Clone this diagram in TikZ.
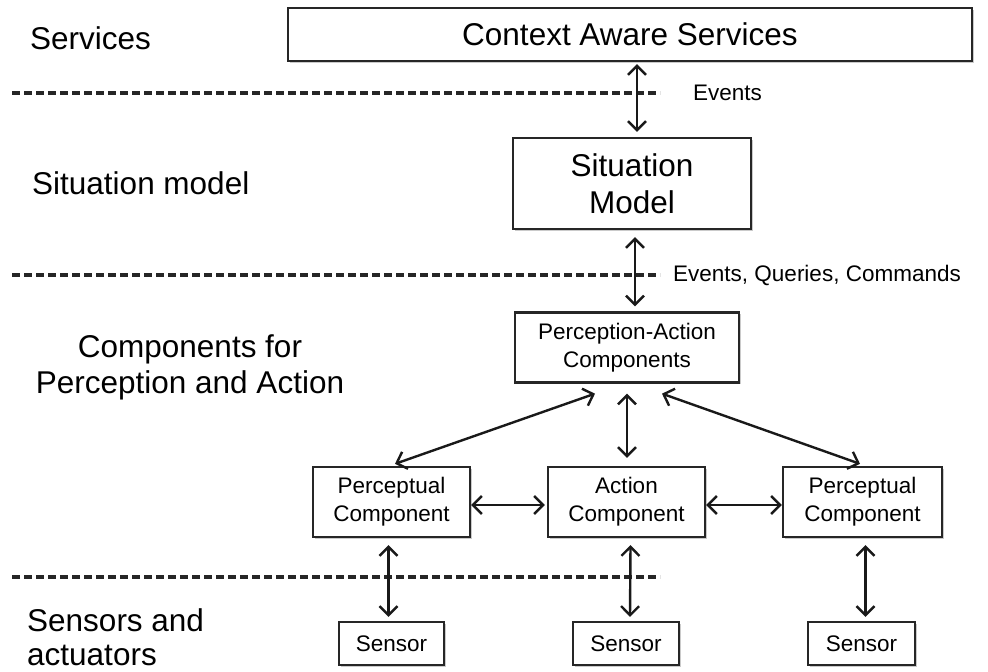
\documentclass[tikz,border=0pt]{standalone}
\usepackage{fontspec}
\setmainfont{Liberation Sans}
\usetikzlibrary{arrows.meta,calc,shadows}
\begin{document}
\begin{tikzpicture}[x=1pt,y=-1pt,
  box/.style={draw=black!85,line width=2.3pt,fill=white,align=center,inner sep=0pt,
    drop shadow={shadow xshift=1.5pt,shadow yshift=-1.5pt,opacity=0.35,fill=black!60}},
  big/.style={font=\fontsize{31.5}{36}\selectfont},
  small/.style={font=\fontsize{22.5}{28}\selectfont},
  tiny/.style={font=\fontsize{22.5}{26}\selectfont},
  tip/.style={Straight Barb[length=9pt,width=18pt,line width=2.4pt]},
  link/.style={line width=2.4pt,black!90,{Straight Barb[length=9pt,width=18pt,line width=2.4pt]}-{Straight Barb[length=9pt,width=18pt,line width=2.4pt]}},
  sep/.style={line width=3.2pt,dash pattern=on 8pt off 4pt,black!85}]
\useasboundingbox (0,0) rectangle (988,672);
% separators
\draw[sep] (12,93) -- (660,93);
\draw[sep] (12,275) -- (660,275);
\draw[sep] (12,577) -- (660,577);
% left labels
\node[big,anchor=west,inner sep=0pt] (lserv) at (30,38) {Services};
\node[big,anchor=west,inner sep=0pt] (lsit) at (32,183) {Situation model};
\node[big,align=center,inner sep=0pt] (lcomp) at (190,367) {Components for\\Perception and Action};
\node[big,align=left,anchor=west,inner sep=0pt,font=\fontsize{31.5}{34}\selectfont] (lsens) at (27,637) {Sensors and\\actuators};
% boxes
\node[box,big,minimum width=684,minimum height=53] (cas) at (630,34.5) {Context Aware Services};
\node[box,big,minimum width=238,minimum height=91,font=\fontsize{31.5}{37}\selectfont] (sm) at (632,183.5) {Situation\\Model};
\node[box,small,minimum width=224,minimum height=70] (pa) at (627,347.5) {Perception-Action\\Components};
\node[box,small,minimum width=157,minimum height=70] (pl) at (391.5,502) {Perceptual\\Component};
\node[box,small,minimum width=157,minimum height=70] (ac) at (626.5,502) {Action\\Component};
\node[box,small,minimum width=159,minimum height=70] (pr) at (862.5,502) {Perceptual\\Component};
\node[box,small,minimum width=105,minimum height=43] (s1) at (391.5,643.5) {Sensor};
\node[box,small,minimum width=106,minimum height=43] (s2) at (626,643.5) {Sensor};
\node[box,small,minimum width=107,minimum height=43] (s3) at (861.5,643.5) {Sensor};
% edge labels
\node[tiny,anchor=west,inner sep=0pt] (ev1) at (693,93) {Events};
\node[tiny,anchor=west,inner sep=0pt] (ev2) at (673,275) {Events, Queries, Commands};
% connectors
\draw[link] ($(cas.south)+(7,2)$) -- ($(sm.north)+(5,-5)$);
\draw[link] ($(sm.south)+(3,7)$) -- ($(pa.north)+(8,-5)$);
\draw[link] ($(pa.south)+(-32,10)$) -- ($(pl.north)+(3.5,-2)$);
\draw[link] ($(pa.south)+(0,10)$) -- ($(ac.north)+(0.5,-8)$);
\draw[link] ($(pa.south)+(35,10)$) -- ($(pr.north)+(-2.5,-2)$);
\draw[link] ($(pl.east)+(0,3)$) -- ($(ac.west)+(-2,3)$);
\draw[link] ($(ac.east)+(0,3)$) -- ($(pr.west)+(0,3)$);
\draw[link] ($(pl.south)+(-3,7)$) -- ($(s1.north)+(-3,-4)$);
\draw[link] ($(ac.south)+(4,7)$) -- ($(s2.north)+(4,-4)$);
\draw[link] ($(pr.south)+(3,7)$) -- ($(s3.north)+(4,-4)$);
\end{tikzpicture}
\end{document}
